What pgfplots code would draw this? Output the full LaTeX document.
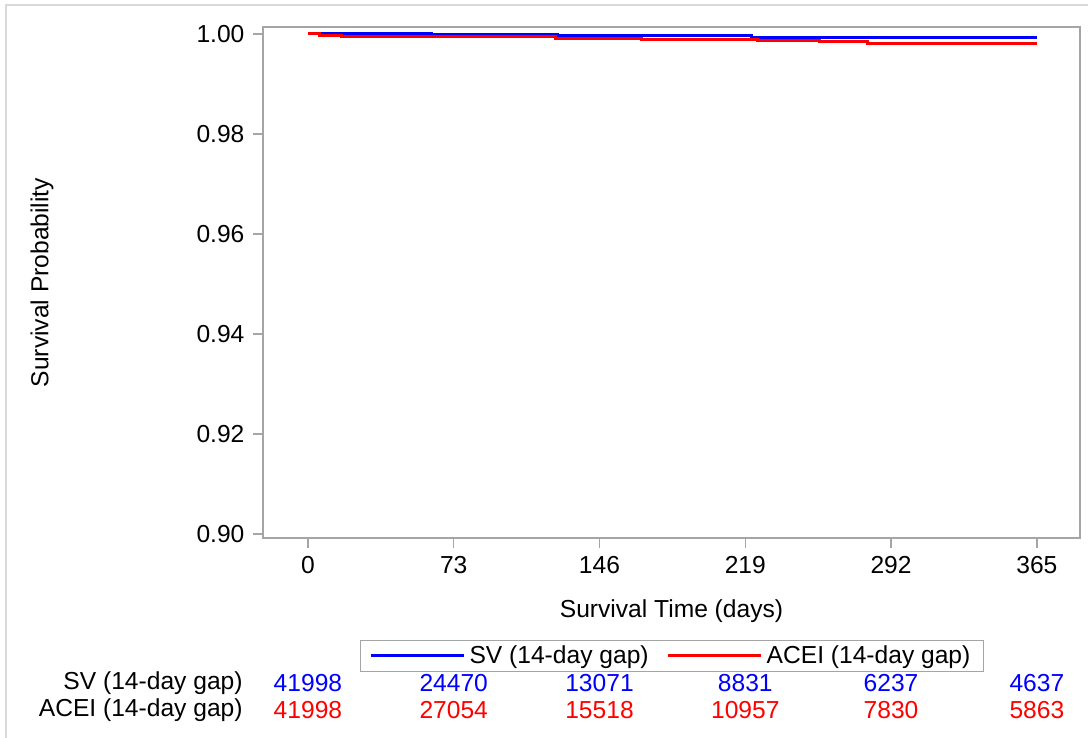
\documentclass[border=0pt]{standalone}
\usepackage{fontspec}
\setmainfont{Liberation Sans}
\usepackage{pgfplots}
\pgfplotsset{compat=1.18}
\definecolor{axgray}{RGB}{165,165,165}
\definecolor{framegray}{RGB}{217,217,217}
\definecolor{svblue}{RGB}{0,0,255}
\definecolor{acred}{RGB}{255,0,0}
\begin{document}
\fontsize{12.3}{14.8}\selectfont
\begin{tikzpicture}[x=1pt,y=1pt]
\useasboundingbox (-131.5,-100) rectangle (412.5,269);
\draw[framegray, line width=0.8pt] (-128.5,-100) -- (-128.5,266.5) -- (412.5,266.5);
\begin{axis}[
  at={(0,0)}, anchor=south west,
  scale only axis, width=408.5pt, height=255.5pt,
  xmin=-22.5, xmax=386.6, ymin=0.8992, ymax=1.0014,
  clip=false,
  axis line style={axgray, line width=0.75pt},
  tick style={axgray, line width=0.75pt},
  tick align=outside, tick pos=left, major tick length=5pt,
  xtick={0,73,146,219,292,365},
  ytick={0.90,0.92,0.94,0.96,0.98,1.00},
  yticklabel style={/pgf/number format/.cd, fixed, fixed zerofill, precision=2},
  /pgf/number format/assume math mode=true,
  font=\fontsize{12.3}{14.8}\selectfont,
  xlabel={Survival Time (days)},
  ylabel={Survival Probability},
  xlabel style={at={(axis description cs:0.5,-0.1425)}, anchor=center},
  ylabel style={at={(axis description cs:-0.2705,0.5)}, anchor=center},
  legend columns=2,
  legend style={at={(axis description cs:0.5006,-0.2309)}, anchor=center,
    draw=axgray, line width=0.5pt, inner xsep=4.5pt, inner ysep=0.5pt,
    font=\fontsize{12.3}{14.8}\selectfont,
    /tikz/every even column/.append style={column sep=7pt}},
  legend image code/.code={\draw[#1] (0pt,0pt) -- (46.5pt,0pt);},
]
\addplot[const plot, svblue, line width=1.5pt] coordinates {
  (0,1.0) (62,0.9998) (125,0.9997) (222,0.99935) (365,0.99935)
};
\addlegendentry{SV (14-day gap)}
\addplot[const plot, acred, line width=1.5pt] coordinates {
  (0,1.0) (6,0.99965) (17,0.9994) (124,0.9991) (167,0.99895) (225,0.99865) (256,0.9984) (280,0.99815) (365,0.99815)
};
\addlegendentry{ACEI (14-day gap)}
% numbers at risk
\addplot[forget plot, draw=none, mark=none, nodes near coords, nodes near coords align={center},
  point meta=explicit symbolic, every node near coord/.append style={text=svblue, font=\fontsize{12.3}{14.8}\selectfont}]
  table[meta=n] {
x y n
0 0.8701 41998
73 0.8701 24470
146 0.8701 13071
219 0.8701 8831
292 0.8701 6237
365 0.8701 4637
};
\addplot[forget plot, draw=none, mark=none, nodes near coords, nodes near coords align={center},
  point meta=explicit symbolic, every node near coord/.append style={text=acred, font=\fontsize{12.3}{14.8}\selectfont}]
  table[meta=n] {
x y n
0 0.8647 41998
73 0.8647 27054
146 0.8647 15518
219 0.8647 10957
292 0.8647 7830
365 0.8647 5863
};
\node[anchor=east, inner sep=0pt, xshift=-10pt] at (axis cs:-22.5,0.8701) {SV (14-day gap)};
\node[anchor=east, inner sep=0pt, xshift=-10pt] at (axis cs:-22.5,0.8647) {ACEI (14-day gap)};
\end{axis}
\end{tikzpicture}
\end{document}
